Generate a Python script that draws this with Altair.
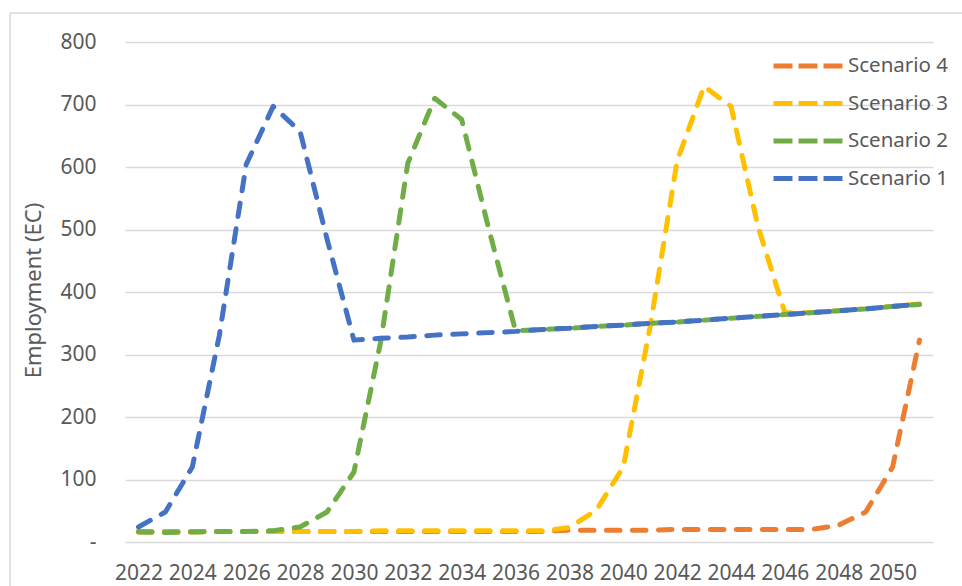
import altair as alt
import pandas as pd

# Projected employment by scenario, 2022-2051
years = list(range(2022, 2052))

scenario_1 = [24, 48, 120, 330, 604, 697, 657, 485, 323, 326,
              328, 331, 333, 335, 337, 340, 342, 345, 347, 350,
              352, 355, 358, 361, 364, 367, 370, 373, 377, 380]
scenario_2 = [16, 15, 16, 17, 17, 18, 24, 48, 112, 322,
              606, 710, 676, 502, 338, 340, 342, 345, 347, 350,
              352, 355, 358, 361, 364, 367, 370, 373, 377, 380]
scenario_3 = [16, 16, 16, 17, 17, 17, 17, 17, 17, 18,
              18, 18, 18, 18, 18, 18, 23, 51, 120, 345,
              610, 729, 697, 505, 367, 367, 370, 373, 377, 381]
scenario_4 = [17, 17, 17, 17, 17, 17, 17, 17, 17, 17,
              17, 17, 17, 17, 17, 17, 19, 19, 19, 19,
              20, 20, 20, 20, 20, 20, 27, 48, 120, 323]

series_names = ["Scenario 4", "Scenario 3", "Scenario 2", "Scenario 1"]
series_values = [scenario_4, scenario_3, scenario_2, scenario_1]
series_colors = ["#ED7D31", "#FFC000", "#70AD47", "#4472C4"]

y_ticks = [0, 100, 200, 300, 400, 500, 600, 700, 800]
x_ticks = list(range(2022, 2051, 2))

rows = []
for name, vals in zip(series_names, series_values):
    for yr, v in zip(years, vals):
        rows.append({"Year": yr, "Employment": v, "Scenario": name})
df = pd.DataFrame(rows)

FONT = "Noto Sans"
TEXT = "#595959"
GRID = "#D9D9D9"

color = alt.Color(
    "Scenario:N",
    scale=alt.Scale(domain=series_names, range=series_colors),
    legend=alt.Legend(
        title=None,
        orient="none",
        legendX=646,
        legendY=9,
        symbolType="stroke",
        symbolSize=4900,
        symbolStrokeWidth=5,
        symbolDash=[19, 6],
        labelFont=FONT,
        labelFontSize=20.5,
        labelColor=TEXT,
        labelOffset=2,
        clipHeight=30,
        rowPadding=7.5,
        padding=0,
    ),
)

x_enc = alt.X(
    "Year:Q",
    scale=alt.Scale(domain=[2021.5, 2051.5], nice=False, zero=False),
    axis=alt.Axis(
        title=None,
        values=x_ticks,
        format="d",
        grid=False,
        domain=False,
        ticks=False,
        tickSize=0,
        labelFont=FONT,
        labelFontSize=21,
        labelColor=TEXT,
        labelPadding=20,
        labelBaseline="top",
    ),
)

y_enc = alt.Y(
    "Employment:Q",
    scale=alt.Scale(domain=[0, 800], nice=False),
    axis=alt.Axis(
        title="Employment (EC)",
        values=y_ticks,
        labelExpr="datum.value == 0 ? '-\u00a0\u00a0' : format(datum.value, 'd')",
        grid=True,
        gridColor=GRID,
        gridWidth=1.4,
        domain=False,
        ticks=False,
        tickSize=0,
        labelFont=FONT,
        labelFontSize=21,
        labelColor=TEXT,
        labelPadding=29,
        titleFont=FONT,
        titleFontSize=22,
        titleFontWeight="normal",
        titleColor=TEXT,
        titleAngle=-90,
        titleX=-92,
        titleY=248,
        titleAlign="center",
        titleBaseline="middle",
    ),
)

# One layer per scenario so Scenario 1 sits on top, Scenario 4 at the bottom
layers = []
for name in series_names:
    layers.append(
        alt.Chart(df)
        .transform_filter(alt.datum.Scenario == name)
        .mark_line(strokeWidth=5, strokeDash=[13.5, 12.5], strokeCap="round", strokeJoin="round")
        .encode(x=x_enc, y=y_enc, color=color)
    )

# Light frame around the chart area
frame_src = pd.DataFrame({"k": [0]})
frame_left = alt.Chart(frame_src).mark_rule(color=GRID, strokeWidth=1.5).encode(
    x=alt.value(-115), y=alt.value(-29), y2=alt.value(560)
)
frame_top = alt.Chart(frame_src).mark_rule(color=GRID, strokeWidth=1.5).encode(
    x=alt.value(-115), x2=alt.value(850), y=alt.value(-29)
)

chart = (
    alt.layer(frame_left, frame_top, *layers)
    .properties(
        width=808,
        height=500,
        padding={"left": 125, "top": 42, "right": 29, "bottom": 44},
        autosize=alt.AutoSizeParams(type="none"),
        background="white",
    )
    .configure_view(stroke=None)
)

chart.save("out.html", embed_options={"renderer": "svg", "actions": False})
